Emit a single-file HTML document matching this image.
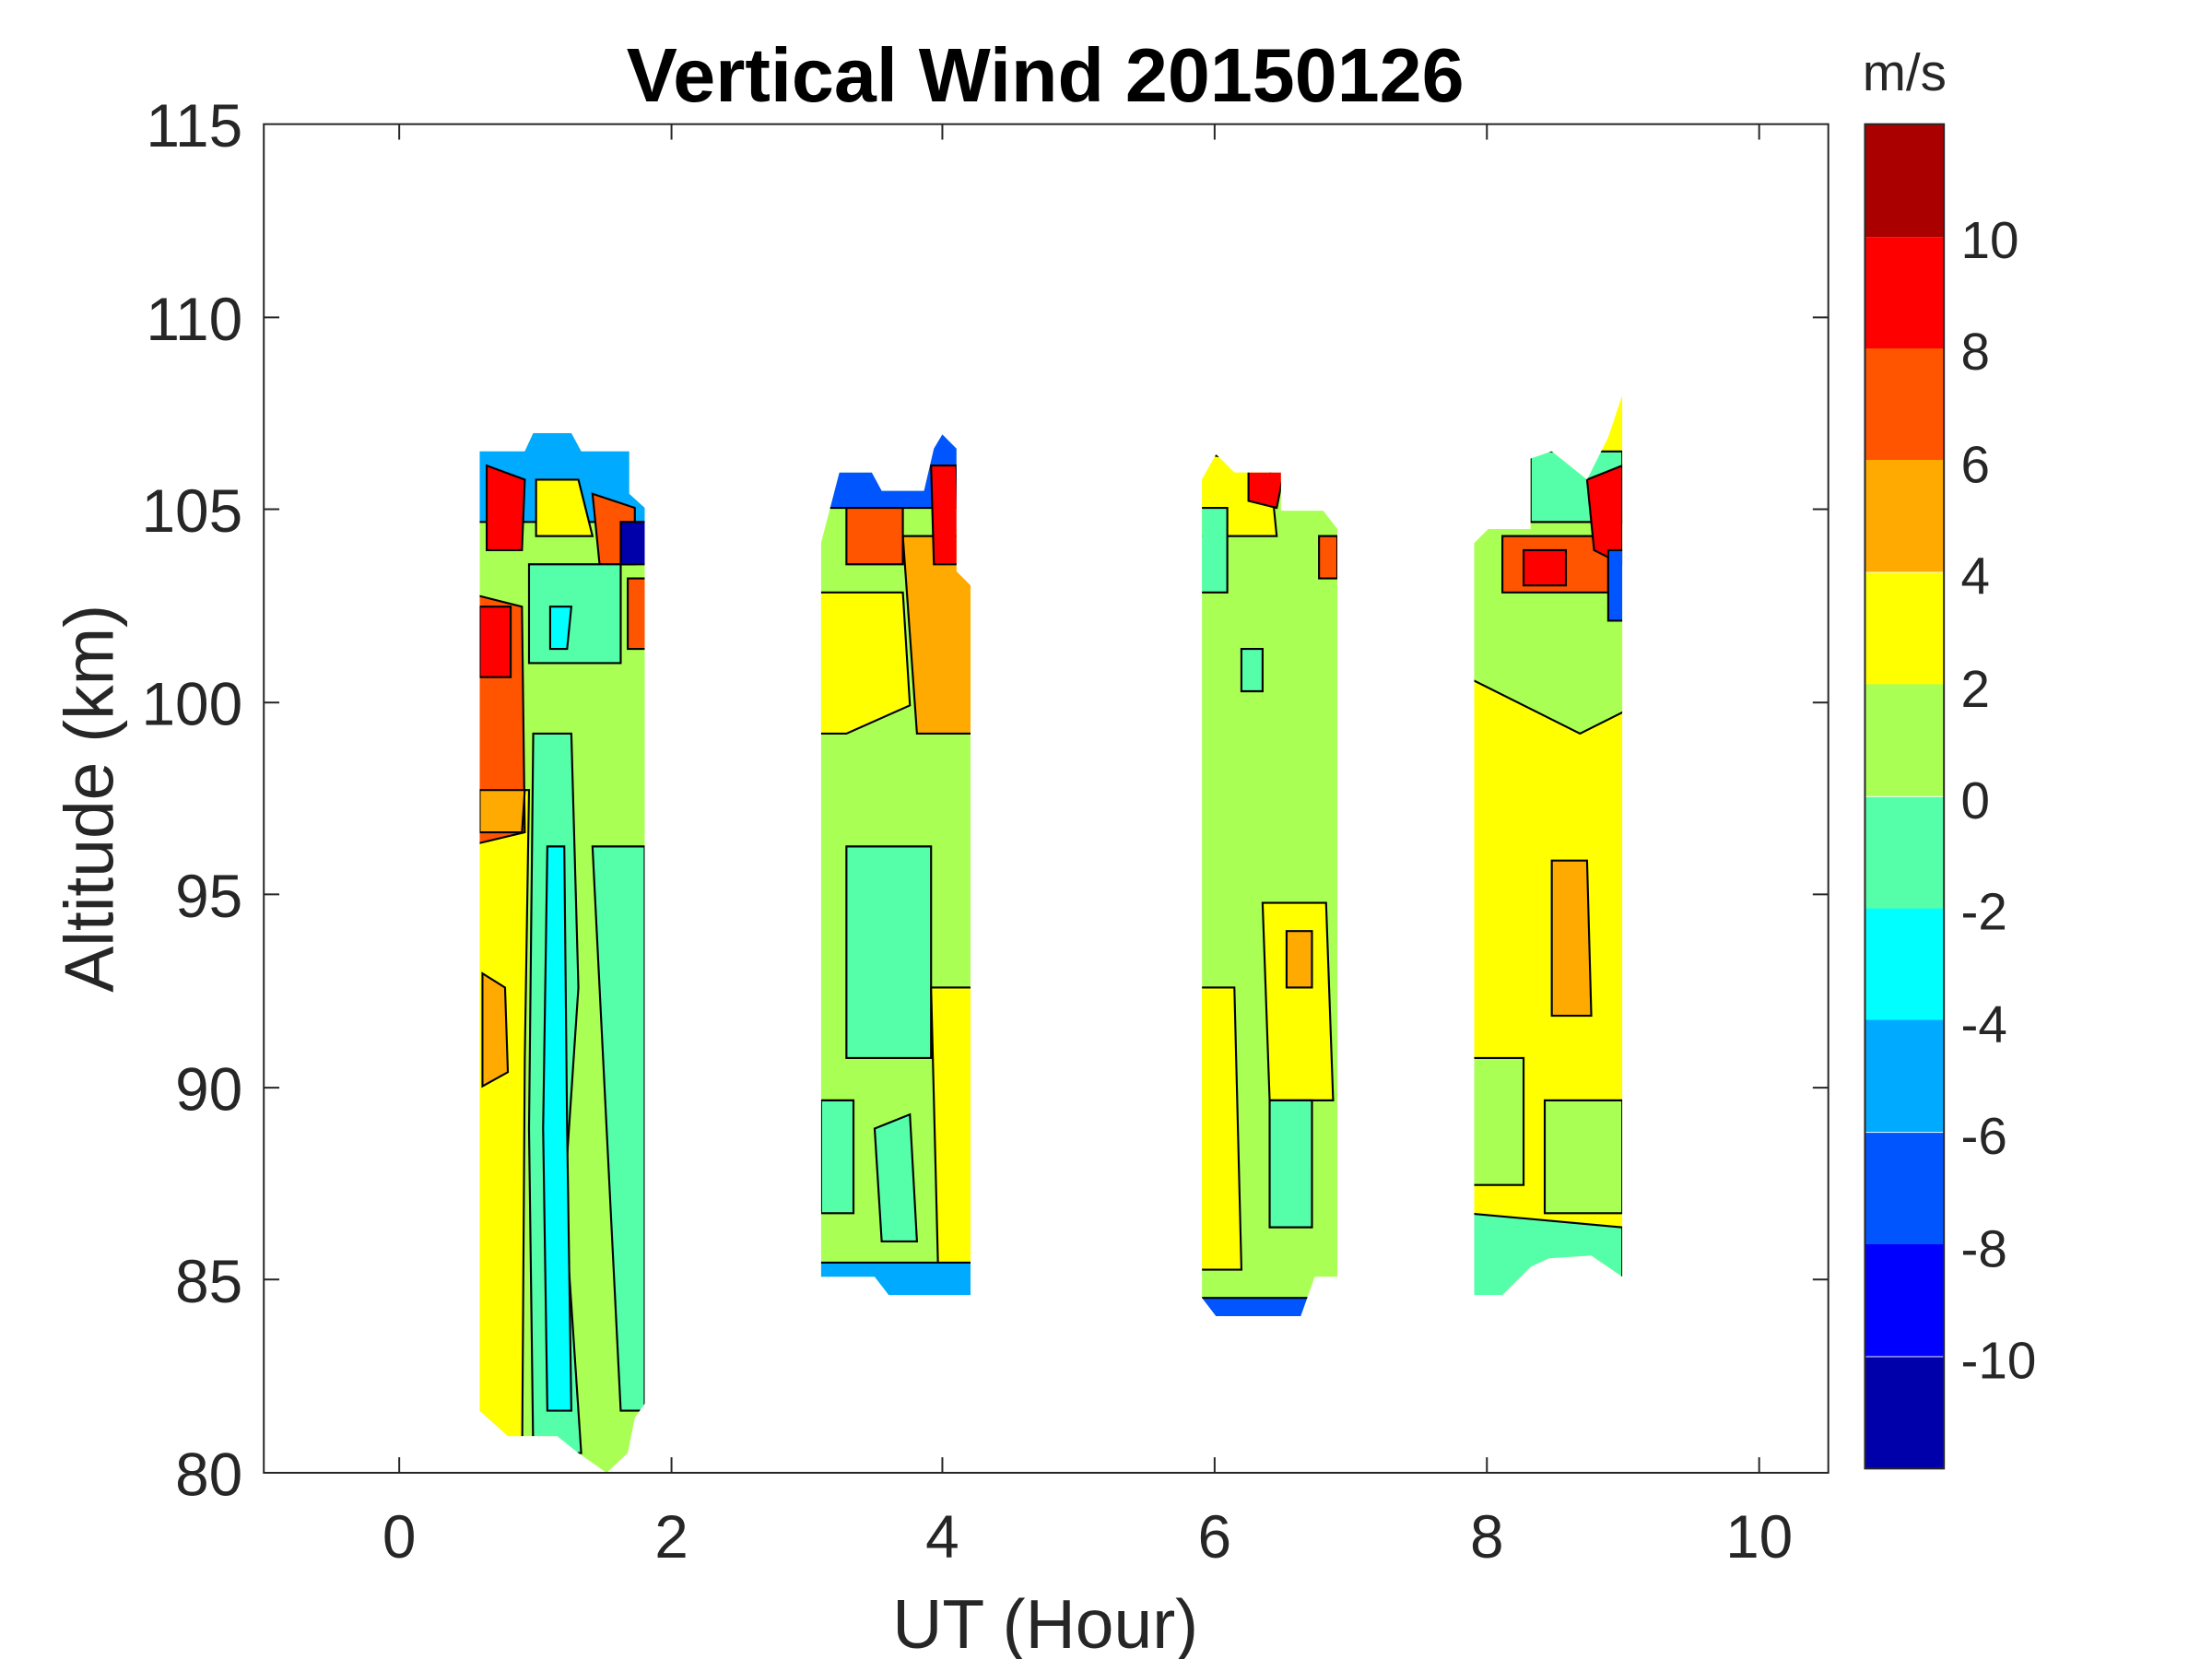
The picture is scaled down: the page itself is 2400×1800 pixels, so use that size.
<!DOCTYPE html>
<html><head><meta charset="utf-8"><style>html,body{margin:0;padding:0;background:#fff}svg{display:block}</style></head>
<body>
<svg width="2400" height="1800" viewBox="0 0 1568 1176" preserveAspectRatio="none" xmlns="http://www.w3.org/2000/svg" font-family="Liberation Sans, Arial, sans-serif">
<rect width="1568" height="1176" fill="#fff"/>
<defs>
<clipPath id="c1"><polygon points="340,320 372,320 378,307 405,307 412,320 446,320 446,350 457,360 457,995 450,1005 445,1030 430,1044 410,1030 395,1018 360,1018 340,1000"/></clipPath>
<clipPath id="c2"><polygon points="582,385 595,335 618,335 625,348 655,348 662,318 668,308 678,318 678,405 688,415 688,918 630,918 620,905 582,905"/></clipPath>
<clipPath id="c3"><polygon points="852,340 862,322 875,335 908,335 908,362 938,362 948,375 948,905 932,905 922,933 862,933 852,920"/></clipPath>
<clipPath id="c4"><polygon points="1045,385 1055,375 1085,375 1085,325 1100,320 1125,340 1140,310 1150,280 1150,905 1128,890 1098,892 1085,898 1065,918 1045,918"/></clipPath>
</defs>
<g clip-path="url(#c1)" stroke="#000" stroke-width="1.4">
<rect x="330" y="300" width="140" height="750" fill="#AAFF55" stroke="none"/>
<polygon points="330,560 375,560 372,750 370,1050 330,1050" fill="#FFFF00"/>
<polygon points="330,420 370,430 372,590 330,600" fill="#FF5500"/>
<polygon points="340,560 372,560 370,590 340,590" fill="#FFAA00"/>
<polygon points="342,690 358,700 360,760 342,770" fill="#FFAA00"/>
<polygon points="378,520 405,520 410,700 400,850 412,1030 378,1030 375,800" fill="#55FFAA"/>
<polygon points="388,600 400,600 402,800 405,1000 388,1000 385,800" fill="#00FFFF"/>
<polygon points="420,600 457,600 457,1000 440,1000 430,800" fill="#55FFAA"/>
<polygon points="330,300 470,300 470,370 330,370" fill="#00AAFF"/>
<polygon points="345,330 372,340 370,390 345,390" fill="#FF0000"/>
<polygon points="380,340 410,340 420,380 380,380" fill="#FFFF00"/>
<polygon points="420,350 450,360 450,400 425,400" fill="#FF5500"/>
<polygon points="440,370 460,370 460,400 440,400" fill="#0000AA"/>
<polygon points="375,400 440,400 440,470 375,470" fill="#55FFAA"/>
<polygon points="340,430 362,430 362,480 340,480" fill="#FF0000"/>
<polygon points="445,410 460,410 460,460 445,460" fill="#FF5500"/>
<polygon points="390,430 405,430 402,460 390,460" fill="#00FFFF"/>
</g>
<g clip-path="url(#c2)" stroke="#000" stroke-width="1.4">
<rect x="575" y="300" width="120" height="630" fill="#AAFF55" stroke="none"/>
<polygon points="575,420 640,420 645,500 600,520 575,520" fill="#FFFF00"/>
<polygon points="640,380 690,380 690,520 650,520" fill="#FFAA00"/>
<polygon points="575,300 695,300 695,360 575,360" fill="#0055FF"/>
<polygon points="600,360 640,360 640,400 600,400" fill="#FF5500"/>
<polygon points="660,330 678,330 680,400 662,400" fill="#FF0000"/>
<polygon points="600,600 660,600 660,750 600,750" fill="#55FFAA"/>
<polygon points="660,700 690,700 690,900 665,900" fill="#FFFF00"/>
<polygon points="582,780 605,780 605,860 582,860" fill="#55FFAA"/>
<polygon points="620,800 645,790 650,880 625,880" fill="#55FFAA"/>
<polygon points="575,895 695,895 695,930 575,930" fill="#00AAFF"/>
</g>
<g clip-path="url(#c3)" stroke="#000" stroke-width="1.4">
<rect x="845" y="300" width="110" height="650" fill="#AAFF55" stroke="none"/>
<polygon points="845,700 875,700 880,900 845,900" fill="#FFFF00"/>
<polygon points="895,640 940,640 945,780 900,780" fill="#FFFF00"/>
<polygon points="912,660 930,660 930,700 912,700" fill="#FFAA00"/>
<polygon points="845,320 900,330 905,380 850,380" fill="#FFFF00"/>
<polygon points="885,325 910,335 905,360 885,355" fill="#FF0000"/>
<polygon points="935,380 948,380 948,410 935,410" fill="#FF5500"/>
<polygon points="845,360 870,360 870,420 845,420" fill="#55FFAA"/>
<polygon points="880,460 895,460 895,490 880,490" fill="#55FFAA"/>
<polygon points="900,780 930,780 930,870 900,870" fill="#55FFAA"/>
<polygon points="845,920 930,920 930,940 845,940" fill="#0055FF"/>
</g>
<g clip-path="url(#c4)" stroke="#000" stroke-width="1.4">
<rect x="1040" y="270" width="120" height="660" fill="#FFFF00" stroke="none"/>
<polygon points="1040,370 1160,370 1160,500 1120,520 1080,500 1040,480" fill="#AAFF55"/>
<polygon points="1065,380 1140,380 1140,420 1065,420" fill="#FF5500"/>
<polygon points="1080,390 1110,390 1110,415 1080,415" fill="#FF0000"/>
<polygon points="1085,320 1150,320 1150,370 1085,370" fill="#55FFAA"/>
<polygon points="1125,340 1150,330 1150,400 1130,390" fill="#FF0000"/>
<polygon points="1140,390 1155,390 1155,440 1140,440" fill="#0055FF"/>
<polygon points="1100,610 1125,610 1128,720 1100,720" fill="#FFAA00"/>
<polygon points="1040,750 1080,750 1080,840 1040,840" fill="#AAFF55"/>
<polygon points="1095,780 1150,780 1150,860 1095,860" fill="#AAFF55"/>
<polygon points="1040,860 1150,870 1150,930 1040,930" fill="#55FFAA"/>
</g>
<rect x="187" y="88" width="1109" height="956" fill="none" stroke="#262626" stroke-width="1.3"/>
<g stroke="#262626" stroke-width="1.3">
<line x1="283" y1="1044" x2="283" y2="1033"/><line x1="476" y1="1044" x2="476" y2="1033"/><line x1="668" y1="1044" x2="668" y2="1033"/><line x1="861" y1="1044" x2="861" y2="1033"/><line x1="1054" y1="1044" x2="1054" y2="1033"/><line x1="1247" y1="1044" x2="1247" y2="1033"/>
<line x1="283" y1="88" x2="283" y2="99"/><line x1="476" y1="88" x2="476" y2="99"/><line x1="668" y1="88" x2="668" y2="99"/><line x1="861" y1="88" x2="861" y2="99"/><line x1="1054" y1="88" x2="1054" y2="99"/><line x1="1247" y1="88" x2="1247" y2="99"/>
<line x1="187" y1="225" x2="198" y2="225"/><line x1="187" y1="361" x2="198" y2="361"/><line x1="187" y1="498" x2="198" y2="498"/><line x1="187" y1="634" x2="198" y2="634"/><line x1="187" y1="771" x2="198" y2="771"/><line x1="187" y1="907" x2="198" y2="907"/>
<line x1="1296" y1="225" x2="1285" y2="225"/><line x1="1296" y1="361" x2="1285" y2="361"/><line x1="1296" y1="498" x2="1285" y2="498"/><line x1="1296" y1="634" x2="1285" y2="634"/><line x1="1296" y1="771" x2="1285" y2="771"/><line x1="1296" y1="907" x2="1285" y2="907"/>
</g>
<g font-size="43" fill="#262626">
<g text-anchor="middle">
<text x="283" y="1104">0</text><text x="476" y="1104">2</text><text x="668" y="1104">4</text><text x="861" y="1104">6</text><text x="1054" y="1104">8</text><text x="1247" y="1104">10</text>
</g>
<g text-anchor="end">
<text x="172" y="104">115</text><text x="172" y="241">110</text><text x="172" y="377">105</text><text x="172" y="514">100</text><text x="172" y="650">95</text><text x="172" y="787">90</text><text x="172" y="923">85</text><text x="172" y="1060">80</text>
</g>
<text x="741" y="1168" text-anchor="middle" font-size="49">UT (Hour)</text>
<text transform="translate(80,566) rotate(-90)" text-anchor="middle" font-size="49">Altitude (km)</text>
</g>
<text x="741" y="72" text-anchor="middle" font-size="54" font-weight="bold" fill="#000">Vertical Wind 20150126</text>
<g stroke="none">
<rect x="1322" y="88" width="56" height="80" fill="#AA0000"/>
<rect x="1322" y="168" width="56" height="79.4" fill="#FF0000"/>
<rect x="1322" y="247" width="56" height="79.4" fill="#FF5500"/>
<rect x="1322" y="326" width="56" height="79.4" fill="#FFAA00"/>
<rect x="1322" y="406" width="56" height="79.4" fill="#FFFF00"/>
<rect x="1322" y="485" width="56" height="79.4" fill="#AAFF55"/>
<rect x="1322" y="565" width="56" height="79.4" fill="#55FFAA"/>
<rect x="1322" y="644" width="56" height="79.4" fill="#00FFFF"/>
<rect x="1322" y="723" width="56" height="79.4" fill="#00AAFF"/>
<rect x="1322" y="803" width="56" height="79.4" fill="#0055FF"/>
<rect x="1322" y="882" width="56" height="79.4" fill="#0000FF"/>
<rect x="1322" y="962" width="56" height="79.4" fill="#0000AA"/>
</g>
<rect x="1322" y="88" width="56" height="953" fill="none" stroke="#262626" stroke-width="1.3"/>
<g font-size="37" fill="#262626">
<text x="1390" y="183">10</text><text x="1390" y="262">8</text><text x="1390" y="342">6</text><text x="1390" y="421">4</text><text x="1390" y="501">2</text><text x="1390" y="580">0</text><text x="1390" y="659">-2</text><text x="1390" y="739">-4</text><text x="1390" y="818">-6</text><text x="1390" y="898">-8</text><text x="1390" y="977">-10</text>
<text x="1350" y="64" text-anchor="middle">m/s</text>
</g>
</svg>
</body></html>
